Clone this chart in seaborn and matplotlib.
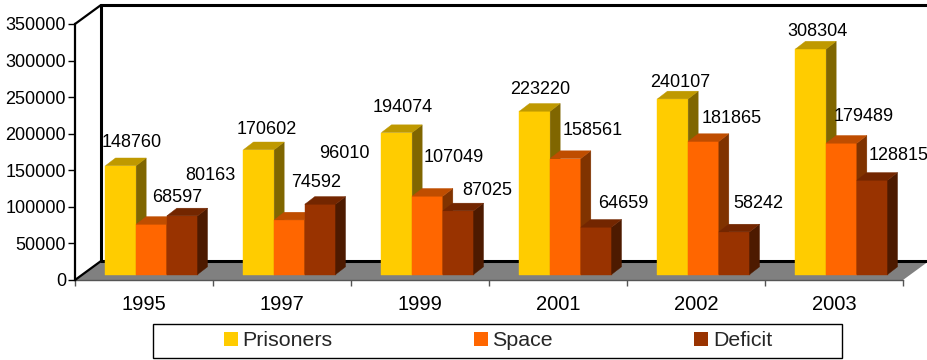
import numpy as np
import pandas as pd
import matplotlib
matplotlib.use("Agg")
import matplotlib.pyplot as plt
import matplotlib.colors as mcolors
import seaborn as sns
from matplotlib.patches import Polygon, Rectangle, Patch
from matplotlib.transforms import ScaledTranslation

# ---------------- data ----------------
years = ["1995", "1997", "1999", "2001", "2002", "2003"]
prisoners = [148760, 170602, 194074, 223220, 240107, 308304]
space = [68597, 74592, 107049, 158561, 181865, 179489]
deficit = [80163, 96010, 87025, 64659, 58242, 128815]
series_names = ["Prisoners", "Space", "Deficit"]
y_ticks = [0, 50000, 100000, 150000, 200000, 250000, 300000, 350000]

# ---------------- style / layout ----------------
colors = ["#FFCC00", "#FF6600", "#993300"]
# per-label nudges (image pixels, relative to bar top centre) mimicking the original label placement
label_nudge = [
    [(11, -25), (8, -22.7), (6, -26.8), (5, -24), (7, -18.6), (7, -19)],
    [(25.5, -29), (26.5, -39.6), (26.5, -40.4), (27.5, -30), (28, -24.5), (22.5, -29)],
    [(28, -42.6), (24.5, -52.3), (29.5, -22.8), (27, -26), (24, -30), (26, -27)],
]

sns.set_theme(style="ticks")
plt.rcParams["font.family"] = ["Liberation Sans", "DejaVu Sans"]

W, H = 928, 360
fig = plt.figure(figsize=(W / 100, H / 100), dpi=100)
fig.patch.set_facecolor("white")
ax = fig.add_axes([75 / W, 80 / H, 828 / W, 256 / H])

df = pd.DataFrame({
    "Year": years * 3,
    "Series": np.repeat(series_names, len(years)),
    "Value": prisoners + space + deficit,
})
sns.barplot(data=df, x="Year", y="Value", hue="Series", order=years,
            hue_order=series_names, palette=colors, width=0.667,
            saturation=1, errorbar=None, legend=False, ax=ax, linewidth=0)

ymax = 350000
ax.set_xlim(-0.5, len(years) - 0.5)
ax.set_ylim(0, ymax)
ax.set_xlabel("")
ax.set_ylabel("")

px_x = ax.bbox.width / len(years)
px_y = ax.bbox.height / ymax

# spines
for s in ["top", "right"]:
    ax.spines[s].set_visible(False)
ax.spines["left"].set_color("black")
ax.spines["left"].set_linewidth(1.6)
ax.spines["left"].set_zorder(6)
ax.spines["bottom"].set_color("#555555")
ax.spines["bottom"].set_linewidth(1.0)

# ticks
ax.set_yticks(y_ticks)
ax.set_yticklabels([str(v) for v in y_ticks])
ax.tick_params(axis="y", length=5, width=1, pad=1.5, labelsize=13,
               color="black", labelcolor="black", direction="out", left=True)
ax.set_xticks(range(len(years)))
ax.set_xticklabels(years)
ax.tick_params(axis="x", which="major", length=0, pad=10.8, labelsize=14.5,
               labelcolor="black")
ax.set_xticks(np.arange(-0.5, len(years), 1), minor=True)
ax.tick_params(axis="x", which="minor", length=4, width=1, color="#555555",
               bottom=True, direction="out")

# ---------------- 3D frame: floor and back wall ----------------
Dx, Dy = 26 / px_x, 19 / px_y
x_lo, x_hi = -0.5, len(years) - 0.5
floor = Polygon([(x_lo, 0), (x_hi, 0), (x_hi + Dx, Dy), (x_lo + Dx, Dy)],
                closed=True, fc="#808080", ec="none", zorder=0.5, clip_on=False)
ax.add_patch(floor)
ax.plot([x_lo + Dx, x_hi + Dx], [Dy, Dy], color="black", lw=2.2, zorder=0.8,
        clip_on=False, solid_capstyle="butt")
ax.plot([x_lo + Dx, x_lo + Dx, x_hi + Dx], [Dy, ymax + Dy, ymax + Dy],
        color="black", lw=2.2, zorder=0.8, clip_on=False)
ax.plot([x_lo, x_lo + Dx], [0, Dy], color="black", lw=1.6, zorder=6, clip_on=False)
ax.plot([x_lo, x_lo + Dx], [ymax, ymax + Dy], color="black", lw=1.6, zorder=6,
        clip_on=False)

# ---------------- 3D bars ----------------
bar_off_px = (7.5, 5.5)  # display pixels (right, up)
bar_off = ScaledTranslation(bar_off_px[0] / 100, bar_off_px[1] / 100, fig.dpi_scale_trans)
tr = ax.transData + bar_off
bdx, bdy = 10 / px_x, 7.7 / px_y
all_vals = [prisoners, space, deficit]

for j, cont in enumerate(ax.containers):
    base = np.array(mcolors.to_rgb(colors[j]))
    top_c = tuple(base * 0.75)
    side_c = tuple(base * 0.5)
    z = 3 + j
    for i, p in enumerate(cont.patches):
        x0 = p.get_x()
        w = p.get_width()
        h = p.get_height()
        x1 = x0 + w
        p.set_transform(tr)
        p.set_zorder(z)
        p.set_edgecolor(colors[j])
        p.set_linewidth(0.3)
        side = Polygon([(x1, 0), (x1 + bdx, bdy), (x1 + bdx, h + bdy), (x1, h)],
                       closed=True, fc=side_c, ec=side_c, lw=0.3, transform=tr, zorder=z)
        top = Polygon([(x0, h), (x1, h), (x1 + bdx, h + bdy), (x0 + bdx, h + bdy)],
                      closed=True, fc=top_c, ec=top_c, lw=0.3, transform=tr, zorder=z)
        ax.add_patch(side)
        ax.add_patch(top)
        ldx, ldy = label_nudge[j][i]
        ax.annotate(str(all_vals[j][i]), xy=(x0 + w / 2, h),
                    xytext=(bar_off_px[0] + ldx, -(ldy - bar_off_px[1] + 6.5)),
                    textcoords="offset pixels", ha="center", va="baseline",
                    fontsize=13, color="black", zorder=10)

# ---------------- legend ----------------
handles = [Patch(facecolor=c, edgecolor="none", label=n) for c, n in zip(colors, series_names)]
fig.legend(handles=handles, loc="center", bbox_to_anchor=(498 / W, 1 - 341 / H),
           ncol=3, frameon=False, fontsize=15.4, handlelength=0.65,
           handleheight=0.6, handletextpad=0.22, columnspacing=6.6,
           borderpad=0, borderaxespad=0)
fig.add_artist(Rectangle((152.7 / W, 2 / H), 689.3 / W, 34 / H,
                         transform=fig.transFigure, fill=False, ec="black", lw=1))

fig.savefig("out.png", dpi=100)
